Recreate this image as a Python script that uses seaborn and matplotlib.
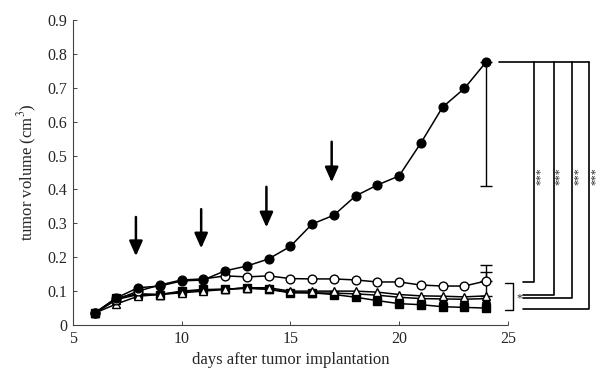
import numpy as np
import pandas as pd
import seaborn as sns
import matplotlib
matplotlib.use("Agg")
import matplotlib.pyplot as plt

# data
days = list(range(6, 25))
control = [0.035, 0.08, 0.11, 0.115, 0.13, 0.133, 0.16, 0.174, 0.195, 0.232, 0.298, 0.324,
           0.381, 0.413, 0.44, 0.537, 0.643, 0.698, 0.776]
open_circle = [0.035, 0.075, 0.10, 0.118, 0.133, 0.136, 0.145, 0.142, 0.145, 0.137, 0.136,
               0.136, 0.133, 0.127, 0.127, 0.118, 0.115, 0.115, 0.13]
open_tri = [0.035, 0.062, 0.085, 0.09, 0.095, 0.10, 0.105, 0.11, 0.11, 0.10, 0.10, 0.10,
            0.10, 0.097, 0.09, 0.086, 0.085, 0.083, 0.086]
filled_tri = [0.035, 0.075, 0.09, 0.09, 0.098, 0.103, 0.106, 0.108, 0.106, 0.097, 0.095,
              0.094, 0.092, 0.088, 0.082, 0.078, 0.077, 0.076, 0.078]
square = [0.035, 0.08, 0.092, 0.09, 0.10, 0.105, 0.105, 0.11, 0.105, 0.095, 0.095, 0.09,
          0.082, 0.072, 0.063, 0.06, 0.054, 0.052, 0.05]

# error bars at last day (lower, upper)
err_control = (0.365, 0.0)
err_open_circle = (0.0, 0.047)
err_open_tri = (0.0, 0.07)

arrow_days = [8, 11, 14, 17]
arrow_top = [0.327, 0.35, 0.416, 0.549]
arrow_tip = [0.195, 0.218, 0.28, 0.413]

# significance brackets: x of vertical line, lower y target
sig_x = [26.2, 27.1, 27.95, 28.75]
sig_y = [0.127, 0.088, 0.08, 0.047]
sig_lab = ["***", "***", "***", "***"]

sns.set_style("ticks")
plt.rcParams['font.family'] = ['Liberation Serif', 'DejaVu Serif']
plt.rcParams['mathtext.fontset'] = 'stix'

fig = plt.figure(figsize=(6.02, 3.75), dpi=100)
ax = fig.add_axes([0.121, 0.1333, 0.7226, 0.8133])

lw = 1.1
ms = 6.3
series = [
    (square, 's', 'black'),
    (filled_tri, '^', 'black'),
    (open_tri, '^', 'white'),
    (open_circle, 'o', 'white'),
    (control, 'o', 'black'),
]
for vals, mk, fc in series:
    sns.lineplot(x=days, y=vals, ax=ax, color='black', linewidth=lw, marker=mk,
                 markersize=ms, markerfacecolor=fc, markeredgecolor='black',
                 markeredgewidth=1.0, zorder=3)

ax.errorbar([days[-1]], [control[-1]], yerr=[[err_control[0]], [err_control[1]]],
            fmt='none', ecolor='black', elinewidth=1.0, capsize=4, capthick=1.0, zorder=2)
ax.errorbar([days[-1]], [open_circle[-1]], yerr=[[err_open_circle[0]], [err_open_circle[1]]],
            fmt='none', ecolor='black', elinewidth=1.0, capsize=4, capthick=1.0, zorder=2)
ax.errorbar([days[-1]], [open_tri[-1]], yerr=[[err_open_tri[0]], [err_open_tri[1]]],
            fmt='none', ecolor='black', elinewidth=1.0, capsize=4, capthick=1.0, zorder=2)

for d, t, b in zip(arrow_days, arrow_top, arrow_tip):
    ax.annotate("", xy=(d - 0.1, b), xytext=(d - 0.1, t),
                arrowprops=dict(arrowstyle="-|>,head_width=0.4,head_length=0.9",
                                color='black', lw=1.8))

# brackets on the right
ax.plot([24.6, sig_x[-1]], [control[-1], control[-1]], color='black', lw=1.2, clip_on=False)
for xs, ys, lab in zip(sig_x, sig_y, sig_lab):
    ax.plot([xs, xs, 25.7], [control[-1], ys, ys], color='black', lw=1.2, clip_on=False)
    ax.text(xs + 0.3, 0.44, lab, rotation=90, fontsize=8.5, ha='center', va='center')
ax.plot([24.85, 25.25, 25.25, 24.85], [0.125, 0.125, 0.045, 0.045], color='black', lw=1.0,
        clip_on=False)
ax.text(25.55, 0.08, "*", fontsize=8.5, ha='center', va='center')

ax.set_xlim(5, 25)
ax.set_ylim(0, 0.9)
ax.set_xticks([5, 10, 15, 20, 25])
ax.set_yticks(np.arange(0, 0.91, 0.1))
ax.set_yticklabels(["0"] + ["%.1f" % v for v in np.arange(0.1, 0.91, 0.1)])
ax.tick_params(direction='in', length=3, width=0.6, labelsize=11.5, pad=4)
ax.set_xlabel("days after tumor implantation", fontsize=12)
ax.set_ylabel("tumor volume (cm$^3$)", fontsize=12, labelpad=6)

sns.despine(ax=ax)
for s in ['left', 'bottom']:
    ax.spines[s].set_linestyle((0, (1, 1)))
    ax.spines[s].set_linewidth(0.8)
    ax.spines[s].set_color('#444444')

fig.savefig("out.png", dpi=100)
